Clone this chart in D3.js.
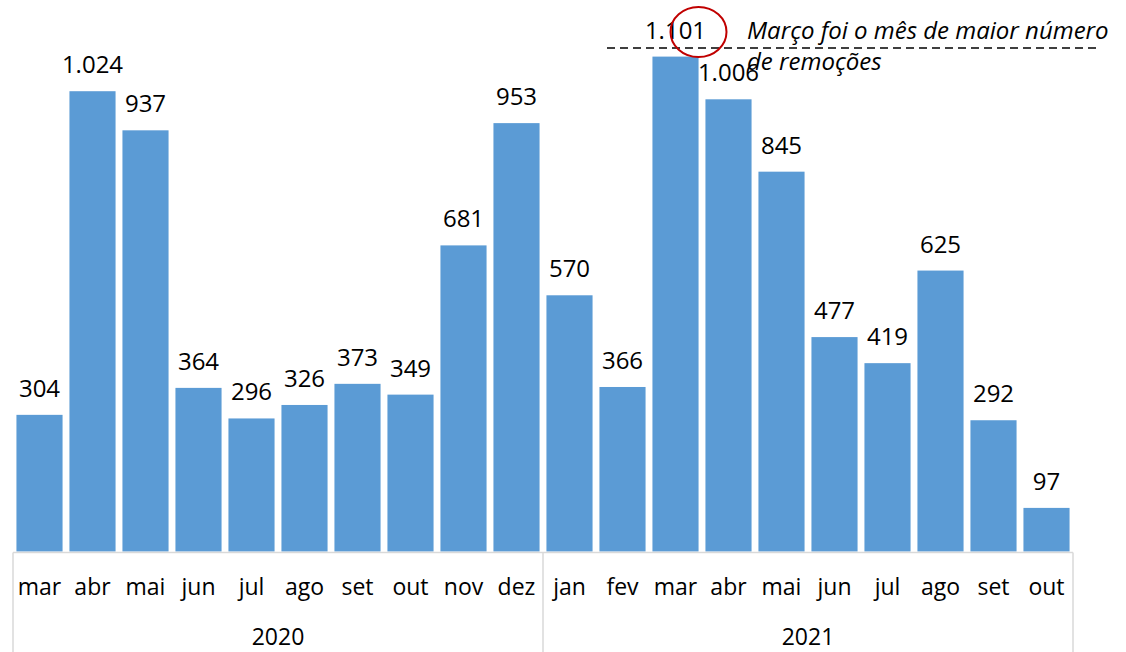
<!DOCTYPE html>
<meta charset="utf-8">
<style>
body{margin:0;background:#fff;}
svg text{font-family:"Open Sans",sans-serif;fill:#000;}
</style>
<svg id="chart" width="1126" height="652"></svg>
<script src="https://d3js.org/d3.v7.min.js"></script>
<script>
// monthly removals, mar/2020 .. out/2021
const months = ["mar","abr","mai","jun","jul","ago","set","out","nov","dez",
                "jan","fev","mar","abr","mai","jun","jul","ago","set","out"]
const years = ["2020","2021"]
const values = [304,1024,937,364,296,326,373,349,681,953,
                570,366,1101,1006,845,477,419,625,292,97]
const noteLines = ["Março foi o mês de maior número", "de remoções"]
const highlight = 12 // mar 2021

const ptBR = d3.formatLocale({decimal:",", thousands:".", grouping:[3], currency:["R$",""]})
const fmt = ptBR.format(",d")

const svg = d3.select('#chart')
const left = 13, right = 1073, base = 551.5

const x = d3.scaleBand()
  .domain(d3.range(values.length))
  .range([left, right])
  .paddingInner(0.13)
  .paddingOuter(0.065)

const y = d3.scaleLinear().domain([0, 1000]).range([base, base - 449.5])

// bars
svg.selectAll('rect.bar').data(values).enter().append('rect')
  .attr('class','bar')
  .attr('x', (d,i) => x(i))
  .attr('width', x.bandwidth())
  .attr('y', d => y(d))
  .attr('height', d => base - y(d))
  .attr('fill', '#5b9bd5')

// value labels
svg.selectAll('text.val').data(values).enter().append('text')
  .attr('class','val')
  .attr('x', (d,i) => x(i) + x.bandwidth()/2)
  .attr('y', d => y(d) - 18)
  .attr('text-anchor','middle')
  .style('font-size','24px')
  .text(d => fmt(d))

// category axis: baseline + year separators
const axis = svg.append('g').attr('stroke','#d9d9d9').attr('stroke-width',1.5)
axis.append('line').attr('x1', left).attr('x2', right).attr('y1', base+1).attr('y2', base+1)
const step = x.step()
const edges = [left, left + step*10, right]
axis.selectAll('line.sep').data(edges).enter().append('line')
  .attr('class','sep')
  .attr('x1', d => d).attr('x2', d => d)
  .attr('y1', base+1).attr('y2', 652)

svg.selectAll('text.month').data(months).enter().append('text')
  .attr('class','month')
  .attr('x', (d,i) => x(i) + x.bandwidth()/2)
  .attr('y', 595)
  .attr('text-anchor','middle')
  .style('font-size','23px')
  .text(d => d)

svg.selectAll('text.year').data(years).enter().append('text')
  .attr('class','year')
  .attr('x', (d,k) => (edges[k] + edges[k+1]) / 2)
  .attr('y', 645)
  .attr('text-anchor','middle')
  .style('font-size','23px')
  .text(d => d)

// annotation
svg.append('line')
  .attr('x1', 607).attr('x2', 1097).attr('y1', 48).attr('y2', 48)
  .attr('stroke','#000').attr('stroke-width',1.5).attr('stroke-dasharray','8,5')

svg.append('ellipse')
  .attr('cx', x(highlight) + x.bandwidth()/2 + 23)
  .attr('cy', 32)
  .attr('rx', 28).attr('ry', 25)
  .attr('fill','none').attr('stroke','#c00000').attr('stroke-width',2)

svg.selectAll('text.note').data(noteLines).enter().append('text')
  .attr('class','note')
  .attr('x', 747)
  .attr('y', (d,i) => 39 + i*31)
  .style('font-size','24px')
  .style('font-style','italic')
  .text(d => d)
</script>
